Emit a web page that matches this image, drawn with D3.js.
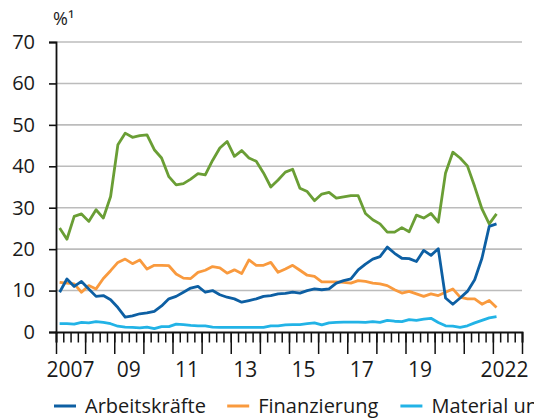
<!DOCTYPE html>
<html><head><meta charset="utf-8">
<script src="https://cdn.jsdelivr.net/npm/d3@7/dist/d3.min.js"></script>
<style>
html,body{margin:0;padding:0;background:#fff;}
svg{display:block;font-family:"Open Sans",sans-serif;}
</style></head>
<body>
<svg id="chart" width="534" height="419"></svg>
<script>
// Quarters 2007Q1 .. 2022Q1
const quarters = [
 "2007Q1","2007Q2","2007Q3","2007Q4","2008Q1","2008Q2","2008Q3","2008Q4",
 "2009Q1","2009Q2","2009Q3","2009Q4","2010Q1","2010Q2","2010Q3","2010Q4",
 "2011Q1","2011Q2","2011Q3","2011Q4","2012Q1","2012Q2","2012Q3","2012Q4",
 "2013Q1","2013Q2","2013Q3","2013Q4","2014Q1","2014Q2","2014Q3","2014Q4",
 "2015Q1","2015Q2","2015Q3","2015Q4","2016Q1","2016Q2","2016Q3","2016Q4",
 "2017Q1","2017Q2","2017Q3","2017Q4","2018Q1","2018Q2","2018Q3","2018Q4",
 "2019Q1","2019Q2","2019Q3","2019Q4","2020Q1","2020Q2","2020Q3","2020Q4",
 "2021Q1","2021Q2","2021Q3","2021Q4","2022Q1"];

const arbeitskraefte = [9.6,12.8,11.0,12.2,10.4,8.6,8.8,7.8,5.9,3.6,3.9,4.4,4.6,5.0,6.3,8.0,
 8.6,9.6,10.6,11.0,9.6,10.0,9.0,8.4,8.0,7.2,7.6,8.0,8.6,8.8,9.2,9.3,
 9.6,9.4,10.0,10.4,10.2,10.4,11.8,12.4,12.8,15.0,16.4,17.6,18.2,20.5,19.0,17.8,
 17.7,17.0,19.7,18.5,20.1,8.2,6.7,8.2,9.8,12.6,17.8,25.5,26.1];

const finanzierung = [12.0,11.8,11.6,9.6,11.2,10.4,12.9,14.8,16.8,17.6,16.5,17.4,15.2,16.1,16.1,16.0,
 14.0,13.0,12.9,14.4,14.9,15.8,15.5,14.2,15.0,14.1,17.4,16.1,16.1,16.8,14.4,15.2,
 16.1,14.9,13.7,13.4,12.1,12.1,12.1,12.0,11.8,12.4,12.2,11.8,11.6,11.2,10.2,9.4,
 9.8,9.2,8.6,9.2,8.8,9.6,10.4,8.4,8.0,8.0,6.7,7.6,5.9];

const material = [2.0,2.0,1.9,2.3,2.2,2.5,2.3,2.0,1.4,1.2,1.1,1.0,1.2,0.8,1.3,1.3,
 1.9,1.8,1.6,1.5,1.5,1.2,1.1,1.1,1.1,1.1,1.1,1.1,1.1,1.5,1.5,1.7,
 1.8,1.8,2.0,2.2,1.7,2.2,2.3,2.4,2.4,2.4,2.3,2.5,2.3,2.8,2.6,2.5,
 3.0,2.8,3.1,3.3,2.3,1.5,1.4,1.1,1.5,2.2,2.8,3.4,3.7];

const nachfrage = [25.1,22.4,27.9,28.5,26.7,29.5,27.5,32.7,45.2,48.0,47.0,47.4,47.6,44.0,42.0,37.5,
 35.5,35.8,36.9,38.2,37.9,41.4,44.4,46.0,42.4,43.8,42.0,41.2,38.4,35.0,36.7,38.6,
 39.3,34.7,33.9,31.7,33.3,33.7,32.3,32.6,32.9,32.9,28.6,27.1,26.1,24.1,24.1,25.2,
 24.2,28.2,27.5,28.6,26.5,38.4,43.4,42.0,40.1,35.1,29.7,26.1,28.5];

const yTicks = [0,10,20,30,40,50,60,70];
const xYears = [2007,2008,2009,2010,2011,2012,2013,2014,2015,2016,2017,2018,2019,2020,2021,2022];
const xLabels = ["2007","","09","","11","","13","","15","","17","","19","","","2022"];
const unitLabel = "%¹";

const seriesNames = ["Arbeitskräfte","Finanzierung","Material und Ausrüstung"];
const seriesColors = ["#0d5fa3","#f99a3e","#22b3e6"];
const greenColor = "#6a9e35";

const svg = d3.select("#chart");
const pLeft = 56, pRight = 522, pTop = 42, pBottom = 332;

const qToYear = q => +q.slice(0,4) + (+q.slice(5) - 1) / 4 + 0.125;
const x = d3.scaleLinear().domain([2007, 2023]).range([pLeft, pRight]);
const y = d3.scaleLinear().domain([0, 70]).range([pBottom, pTop]);

// gridlines
svg.append("g").selectAll("line").data(yTicks.filter(d => d > 0)).join("line")
  .attr("x1", pLeft).attr("x2", pRight)
  .attr("y1", d => y(d)).attr("y2", d => y(d))
  .attr("stroke", "#bcbcbc").attr("stroke-width", 1.6);

// lines
const line = d3.line().x((d,i) => x(qToYear(quarters[i]))).y(d => y(d));
const allSeries = [
  {v: nachfrage, c: greenColor},
  {v: material, c: seriesColors[2]},
  {v: finanzierung, c: seriesColors[1]},
  {v: arbeitskraefte, c: seriesColors[0]}
];
svg.append("g").selectAll("path").data(allSeries).join("path")
  .attr("d", d => line(d.v)).attr("fill", "none")
  .attr("stroke", d => d.c).attr("stroke-width", 2.8)
  .attr("stroke-linejoin", "round");

// y axis
const yAxis = d3.axisLeft(y).tickValues(yTicks).tickSize(7).tickPadding(14).tickFormat(d3.format("d"));
const gy = svg.append("g").attr("transform", `translate(${pLeft},0)`).call(yAxis);
gy.select(".domain").attr("stroke", "#111").attr("stroke-width", 1.8);
gy.selectAll(".tick line").attr("stroke", "#111").attr("stroke-width", 1.6);
gy.selectAll(".tick text").attr("font-size", 20).attr("fill", "#1a1a1a")
  .attr("font-family", "Open Sans, sans-serif");

// x axis: minor quarterly ticks, major yearly ticks
const minorTicks = d3.range(0, 16*4 + 1).map(k => 2007 + k/4);
const gxMinor = svg.append("g").attr("transform", `translate(0,${pBottom})`)
  .call(d3.axisBottom(x).tickValues(minorTicks).tickSize(10.5).tickFormat(""));
gxMinor.select(".domain").attr("stroke", "#111").attr("stroke-width", 1.8);
gxMinor.selectAll(".tick line").attr("stroke", "#111").attr("stroke-width", 1.5);

const majorTicks = xYears.concat([2023]);
const gxMajor = svg.append("g").attr("transform", `translate(0,${pBottom})`)
  .call(d3.axisBottom(x).tickValues(majorTicks).tickSize(22).tickFormat(""));
gxMajor.select(".domain").remove();
gxMajor.selectAll(".tick line").attr("stroke", "#111").attr("stroke-width", 1.5);

// x labels centred mid-year
svg.append("g").selectAll("text").data(xYears.map((yr,i) => ({yr, t: xLabels[i]})).filter(d => d.t))
  .join("text")
  .attr("x", d => x(d.yr + 0.5) - (d.yr === 2022 ? 3 : 0)).attr("y", 377)
  .attr("text-anchor", "middle").attr("font-size", 21).attr("fill", "#1a1a1a")
  .text(d => d.t);

// unit label
svg.append("text").attr("x", 53).attr("y", 25).attr("font-size", 18).attr("fill", "#1a1a1a").text(unitLabel);

// legend
const leg = svg.append("g").selectAll("g").data(seriesNames).join("g")
  .attr("transform", (d,i) => `translate(${54 + i*173.2},406)`);
leg.append("line").attr("x1", 0).attr("x2", 22).attr("y1", 0).attr("y2", 0)
  .attr("stroke", (d,i) => seriesColors[i]).attr("stroke-width", 3);
leg.append("text").attr("x", 31).attr("y", 6.5).attr("font-size", 20).attr("fill", "#1a1a1a").text(d => d);
</script>
</body></html>
